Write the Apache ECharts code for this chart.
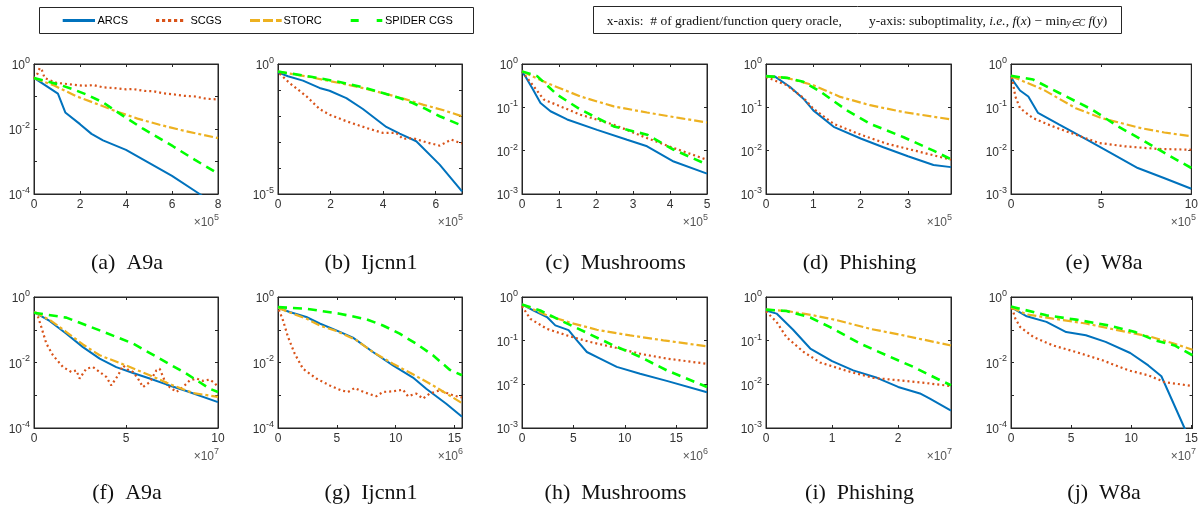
<!DOCTYPE html>
<html><head><meta charset="utf-8">
<script src="https://cdn.jsdelivr.net/npm/echarts@6/dist/echarts.min.js"></script>
<style>html,body{margin:0;padding:0;background:#fff}#c{width:1201px;height:506px}</style>
</head><body><div id="c"></div><script>
// ---------------- data ----------------
const seriesNames = ['ARCS', 'SCGS', 'STORC', 'SPIDER CGS'];
const panelCaptions = ['(a)  A9a', '(b)  Ijcnn1', '(c)  Mushrooms', '(d)  Phishing', '(e)  W8a',
                       '(f)  A9a', '(g)  Ijcnn1', '(h)  Mushrooms', '(i)  Phishing', '(j)  W8a'];
const xMax = [8, 7, 5, 3.91, 10, 10, 15.64, 18, 2.8, 15.1];
const xStep = [2, 2, 1, 1, 5, 5, 5, 5, 1, 5];
const xPow = [5, 5, 5, 5, 5, 7, 6, 6, 7, 7];
const yMinPow = [-4, -5, -3, -3, -3, -4, -4, -3, -3, -4];
const yLabelStep = [2, 5, 1, 1, 1, 2, 2, 1, 1, 2];

// (a) A9a
const a_arcs = [[0,0.372],[1.04,0.123],[1.36,0.0324],[2.0,0.0141],[2.5,0.00708],[3.0,0.00447],[4.0,0.00229],[5.0,0.000912],[6.0,0.000363],[7.2,0.0001],[8.0,0.0000398]];
const a_scgs = [[0,0.355],[0.15,0.501],[0.25,0.759],[0.35,0.631],[0.46,0.372],[0.7,0.316],[0.97,0.263],[1.5,0.24],[2.13,0.214],[2.6,0.224],[3.0,0.191],[3.5,0.182],[4.0,0.166],[4.3,0.17],[4.8,0.148],[5.2,0.145],[5.6,0.126],[6.04,0.117],[6.5,0.105],[7.0,0.1],[7.5,0.0851],[8.0,0.0813]];
const a_storc = [[0,0.372],[0.9,0.214],[1.84,0.102],[2.7,0.0603],[3.58,0.0347],[4.5,0.0209],[5.46,0.0135],[6.5,0.00891],[7.2,0.00692],[8.0,0.00525]];
const a_spider = [[0,0.372],[1.12,0.229],[1.7,0.166],[2.28,0.115],[3.0,0.0661],[3.58,0.0347],[4.74,0.0102],[6.04,0.00295],[7.0,0.00112],[8.0,0.000427]];
// (b) Ijcnn1
const b_arcs = [[0,0.479],[0.38,0.339],[0.95,0.229],[1.58,0.12],[1.96,0.0933],[2.6,0.049],[3.23,0.0186],[4.12,0.0038],[4.63,0.00209],[5.26,0.00107],[6.15,0.000135],[7.0,0.0000126]];
const b_scgs = [[0.06,0.427],[0.44,0.186],[1.08,0.0575],[1.58,0.0186],[1.96,0.0112],[2.6,0.00631],[3.36,0.00347],[3.99,0.00224],[4.5,0.00224],[4.75,0.00132],[5.13,0.00141],[5.64,0.000977],[6.15,0.000724],[6.59,0.00123],[7.0,0.000871]];
const b_storc = [[0,0.513],[1.2,0.316],[2.34,0.186],[3.2,0.12],[3.99,0.0759],[4.8,0.0457],[5.51,0.0275],[6.3,0.0166],[7.0,0.00977]];
const b_spider = [[0,0.513],[1.2,0.331],[2.34,0.204],[3.2,0.129],[3.99,0.0759],[4.6,0.0501],[5.13,0.0316],[5.6,0.0191],[6.15,0.00977],[7.0,0.00427]];
// (c) Mushrooms
const c_arcs = [[0,0.676],[0.1,0.501],[0.27,0.282],[0.5,0.126],[0.77,0.0813],[1.22,0.0525],[2.03,0.0302],[2.84,0.0178],[3.38,0.0126],[4.1,0.00562],[5,0.00295]];
const c_scgs = [[0,0.676],[0.32,0.302],[0.59,0.151],[1.04,0.105],[1.58,0.0676],[2.48,0.0398],[3.38,0.0195],[4.1,0.0115],[5,0.00617]];
const c_storc = [[0,0.676],[0.68,0.363],[1.58,0.178],[2.48,0.105],[3.38,0.0759],[4.28,0.0562],[5,0.0447]];
const c_spider = [[0,0.676],[0.41,0.525],[0.95,0.195],[1.58,0.0891],[2.48,0.0363],[3.38,0.0234],[4.1,0.0105],[5,0.00479]];
// (d) Phishing
const d_arcs = [[0,0.525],[0.19,0.513],[0.51,0.295],[0.79,0.158],[1.0,0.0851],[1.43,0.0355],[2.0,0.0191],[2.48,0.012],[3.0,0.00741],[3.54,0.00468],[3.91,0.00417]];
const d_scgs = [[0,0.501],[0.44,0.324],[0.79,0.166],[1.0,0.0933],[1.43,0.0417],[2.0,0.0234],[2.55,0.0145],[3.26,0.00933],[3.91,0.00617]];
const d_storc = [[0,0.525],[0.44,0.479],[1.0,0.324],[1.57,0.174],[2.2,0.112],[2.91,0.0776],[3.91,0.0525]];
const d_spider = [[0,0.525],[0.44,0.479],[0.79,0.389],[1.14,0.234],[1.71,0.0851],[2.2,0.0417],[2.91,0.0204],[3.54,0.01],[3.91,0.00631]];
// (e) W8a
const e_arcs = [[0,0.525],[0.14,0.398],[0.5,0.245],[0.96,0.178],[1.5,0.0741],[2.68,0.0398],[4.13,0.0186],[5.4,0.00955],[7.03,0.00398],[8.48,0.00234],[10,0.00132]];
const e_scgs = [[0.05,0.501],[0.24,0.178],[0.5,0.0955],[1.23,0.0562],[2.32,0.0363],[3.59,0.0234],[4.86,0.0151],[6.3,0.0126],[8.1,0.011],[10,0.0105]];
const e_storc = [[0,0.525],[1.78,0.257],[3.59,0.0955],[5.04,0.0562],[7.21,0.0331],[8.5,0.0263],[10,0.0214]];
const e_spider = [[0,0.537],[1.23,0.437],[2.68,0.214],[4.49,0.0891],[5.94,0.0363],[7.39,0.0166],[8.84,0.00741],[10,0.00398]];
// (f) A9a
const f_arcs = [[0,0.347],[0.85,0.186],[1.76,0.0759],[2.66,0.0295],[3.57,0.0132],[4.47,0.00724],[5.38,0.00479],[6.29,0.00324],[7.19,0.00214],[8.28,0.00135],[10,0.000617]];
const f_scgs = [[0.07,0.347],[0.22,0.245],[0.4,0.12],[0.67,0.038],[1.03,0.0166],[1.58,0.00724],[2.03,0.00513],[2.3,0.00575],[2.48,0.00324],[2.84,0.00646],[3.21,0.00724],[3.57,0.00513],[3.93,0.00363],[4.2,0.002],[4.57,0.00407],[4.84,0.00813],[5.11,0.00603],[5.38,0.00513],[5.65,0.00324],[5.92,0.00178],[6.29,0.00251],[6.65,0.00575],[6.83,0.00646],[7.1,0.00282],[7.37,0.00178],[7.74,0.00126],[8.1,0.00178],[8.46,0.00282],[8.82,0.00324],[9.18,0.00275],[9.55,0.00302],[9.82,0.00234],[10,0.00178]];
const f_storc = [[0,0.347],[0.85,0.2],[1.76,0.0851],[2.66,0.0355],[3.57,0.0166],[5.0,0.00813],[6.29,0.00407],[7.55,0.002],[8.64,0.00117],[10,0.000891]];
const f_spider = [[0,0.331],[1.76,0.234],[3.57,0.0955],[5.38,0.038],[6.83,0.0132],[8.28,0.00457],[9.55,0.00158],[10,0.00126]];
// (g) Ijcnn1
const g_arcs = [[0,0.468],[0.99,0.347],[2.41,0.245],[3.54,0.155],[4.96,0.0955],[6.37,0.0575],[8.07,0.0209],[9.77,0.00813],[11.47,0.00347],[12.6,0.00158],[14.3,0.00055],[15.64,0.000219]];
const g_scgs = [[0.08,0.407],[0.42,0.195],[0.85,0.0603],[1.42,0.0186],[2.12,0.00646],[3.26,0.00324],[4.39,0.002],[5.38,0.00141],[5.95,0.00126],[6.52,0.00166],[6.94,0.00141],[7.65,0.00112],[8.36,0.000933],[8.92,0.00126],[9.77,0.00132],[10.62,0.00148],[11.05,0.000933],[11.76,0.00112],[12.32,0.000794],[12.89,0.00112],[13.74,0.00141],[14.87,0.001],[15.64,0.000851]];
const g_storc = [[0,0.468],[1.27,0.309],[2.41,0.219],[3.54,0.135],[4.96,0.0912],[6.66,0.0479],[8.07,0.0209],[9.77,0.00912],[11.47,0.00437],[13.17,0.002],[15.64,0.000575]];
const g_spider = [[0,0.49],[2.41,0.437],[5.24,0.309],[7.51,0.209],[8.92,0.135],[10.34,0.0759],[11.76,0.0372],[13.17,0.0166],[14.59,0.00603],[15.64,0.00407]];
// (h) Mushrooms
const h_arcs = [[0,0.676],[1.13,0.49],[2.43,0.347],[3.24,0.224],[4.53,0.174],[5.34,0.102],[6.31,0.055],[7.6,0.0389],[9.22,0.0251],[11.49,0.0174],[14.08,0.012],[18,0.00661]];
const h_scgs = [[0,0.617],[0.81,0.316],[2.43,0.186],[4.37,0.132],[6.63,0.0933],[8.9,0.0708],[11.49,0.0501],[14.08,0.0389],[18,0.0295]];
const h_storc = [[0,0.676],[2.43,0.38],[5.02,0.245],[7.28,0.178],[10.52,0.132],[13.75,0.102],[18,0.0741]];
const h_spider = [[0,0.676],[1.78,0.49],[4.05,0.269],[6.31,0.151],[8.9,0.0776],[11.49,0.0427],[14.08,0.0209],[18,0.00871]];
// (i) Phishing
const i_arcs = [[0,0.49],[0.16,0.417],[0.41,0.178],[0.67,0.0661],[1.0,0.0339],[1.32,0.0209],[1.68,0.0141],[2.0,0.00871],[2.33,0.00617],[2.48,0.00468],[2.8,0.00251]];
const i_scgs = [[0,0.468],[0.16,0.269],[0.31,0.12],[0.57,0.055],[0.82,0.0316],[1.22,0.0204],[1.62,0.0141],[2.02,0.0123],[2.42,0.0107],[2.8,0.00912]];
const i_storc = [[0,0.513],[0.31,0.479],[0.72,0.38],[1.07,0.295],[1.58,0.186],[2.08,0.132],[2.8,0.0776]];
const i_spider = [[0,0.513],[0.31,0.479],[0.67,0.339],[0.97,0.204],[1.43,0.0851],[1.83,0.0457],[2.23,0.0251],[2.64,0.0123],[2.8,0.00955]];
// (j) W8a
const j_arcs = [[0,0.49],[1.31,0.257],[2.95,0.174],[4.59,0.0851],[6.23,0.0676],[7.87,0.0427],[9.92,0.0195],[11.42,0.00813],[12.51,0.0038],[14.43,0.0001],[15.1,0.0000282]];
const j_scgs = [[0.08,0.468],[0.36,0.219],[0.77,0.12],[1.86,0.0603],[3.5,0.0331],[5.41,0.0209],[7.6,0.0117],[9.78,0.00575],[11.42,0.00407],[12.79,0.00251],[15.1,0.00191]];
const j_storc = [[0,0.49],[1.31,0.295],[3.5,0.219],[6.23,0.155],[8.96,0.0955],[11.69,0.0603],[13.61,0.0372],[15.1,0.0245]];
const j_spider = [[0,0.513],[2.95,0.275],[5.41,0.204],[8.14,0.135],[10.33,0.0851],[11.97,0.0479],[13.61,0.0331],[15.1,0.0166]];

const panels = [
  [a_arcs, a_scgs, a_storc, a_spider], [b_arcs, b_scgs, b_storc, b_spider],
  [c_arcs, c_scgs, c_storc, c_spider], [d_arcs, d_scgs, d_storc, d_spider],
  [e_arcs, e_scgs, e_storc, e_spider], [f_arcs, f_scgs, f_storc, f_spider],
  [g_arcs, g_scgs, g_storc, g_spider], [h_arcs, h_scgs, h_storc, h_spider],
  [i_arcs, i_scgs, i_storc, i_spider], [j_arcs, j_scgs, j_storc, j_spider]
];

// ---------------- layout & style ----------------
const colLeft = [34, 278, 522, 766, 1011];
const colWidth = [184, 184, 185, 185, 184];
const rowTop = [64, 297];
const rowHeight = [130, 131];
const colors = ['#0072BD', '#D95319', '#EDB120', '#00FF00'];
const lineStyles = [
  { width: 2, type: 'solid' },
  { width: 2.2, type: [2, 3], cap: 'butt' },
  { width: 2.2, type: [9, 3, 3, 3], cap: 'butt' },
  { width: 2.6, type: [9, 6], cap: 'butt' }
];
const AX = '#262626';
const SANS = 'Liberation Sans, Arial, Helvetica, sans-serif';
const SERIF = 'Liberation Serif, Times New Roman, serif';

const grids = [], xAxes = [], yAxes = [], series = [], graphics = [];

panels.forEach((lines, p) => {
  const r = Math.floor(p / 5), c = p % 5;
  const L = colLeft[c], T = rowTop[r], W = colWidth[c], H = rowHeight[r];
  grids.push({ left: L, top: T, width: W, height: H, containLabel: false,
               show: true, borderColor: AX, borderWidth: 1, backgroundColor: '#fff' });
  const xBase = {
    type: 'value', gridIndex: p, min: 0, max: xMax[p], interval: xStep[p],
    axisLine: { show: true, onZero: false, lineStyle: { color: AX, width: 1 } },
    axisTick: { show: true, inside: true, length: 3, lineStyle: { color: AX } },
    splitLine: { show: false }
  };
  xAxes.push(Object.assign({}, xBase, {
    position: 'bottom',
    axisLabel: { show: true, color: '#333', fontSize: 12, fontFamily: SANS, margin: 5,
      formatter: v => Math.abs(v / xStep[p] - Math.round(v / xStep[p])) < 1e-6 ? String(Math.round(v)) : '' }
  }));
  xAxes.push(Object.assign({}, xBase, { position: 'top', axisLabel: { show: false } }));
  const yBase = {
    type: 'log', logBase: 10, gridIndex: p, min: Math.pow(10, yMinPow[p]), max: 1, interval: 1,
    axisLine: { show: true, onZero: false, lineStyle: { color: AX, width: 1 } },
    axisTick: { show: true, inside: true, length: 3, lineStyle: { color: AX } },
    splitLine: { show: false }
  };
  yAxes.push(Object.assign({}, yBase, {
    position: 'left',
    axisLabel: { show: true, margin: 4,
      formatter: v => { const e = Math.round(Math.log10(v)); return (e % yLabelStep[p] === 0) ? '{b|10}{s|' + e + '}' : ''; },
      rich: {
        b: { fontSize: 12, fontFamily: SANS, color: '#333', padding: [4, 0, 0, 0], verticalAlign: 'bottom' },
        s: { fontSize: 9, fontFamily: SANS, color: '#333', verticalAlign: 'top' }
      } }
  }));
  yAxes.push(Object.assign({}, yBase, { position: 'right', axisLabel: { show: false } }));

  lines.forEach((d, k) => {
    series.push({
      name: seriesNames[k], type: 'line', xAxisIndex: 2 * p, yAxisIndex: 2 * p,
      data: d, showSymbol: false, symbol: 'none', smooth: false, clip: true,
      lineStyle: Object.assign({ color: colors[k] }, lineStyles[k]), z: 2 + k
    });
  });

  // x10^n multiplier
  graphics.push({ type: 'text', x: L + W + 1, y: T + H + 27, z: 10,
    style: { text: '{a|×10}{s|' + xPow[p] + '}', align: 'right', verticalAlign: 'middle',
      rich: { a: { fontSize: 12, fontFamily: SANS, fill: '#555', padding: [4, 0, 0, 0], verticalAlign: 'bottom' },
              s: { fontSize: 9, fontFamily: SANS, fill: '#555', verticalAlign: 'top' } } } });
  // caption
  graphics.push({ type: 'text', x: L + W / 2 + 1, y: r === 0 ? 263 : 493, z: 10,
    style: { text: panelCaptions[p], align: 'center', verticalAlign: 'middle',
      font: '22px ' + SERIF, fill: '#111' } });
});

// legend box
graphics.push({ type: 'rect', shape: { x: 39.5, y: 7.5, width: 434, height: 26 },
  style: { fill: '#fff', stroke: AX, lineWidth: 1 }, z: 10 });
const legX = [[62.7, 95, 97.5], [156, 185, 190.5], [250, 281.7, 283.5], [350.7, 382.3, 385]];
const legDash = [null, [3.2, 2.8], [10, 3], [8, 18]];
seriesNames.forEach((nm, k) => {
  graphics.push({ type: 'line', shape: { x1: legX[k][0], y1: 20.5, x2: legX[k][1], y2: 20.5 }, z: 11,
    style: { stroke: colors[k], lineWidth: 3, lineDash: legDash[k], lineCap: 'butt' } });
  graphics.push({ type: 'text', x: legX[k][2], y: 20.5, z: 11,
    style: { text: nm, font: '11px ' + SANS, fill: '#000', align: 'left', verticalAlign: 'middle' } });
});

// axis description box
graphics.push({ type: 'rect', shape: { x: 593.5, y: 6.5, width: 528, height: 27 },
  style: { fill: '#fff', stroke: AX, lineWidth: 1 }, z: 10 });
graphics.push({ type: 'text', x: 857, y: 20, z: 11,
  style: {
    text: '{n|x-axis:  # of gradient/function query oracle,        y-axis: suboptimality, }{i|i.e.,}{n| }{i|f}{n|(}{i|x}{n|) − min}{sub|y∈}{subi|C}{n| }{i|f}{n|(}{i|y}{n|)}',
    align: 'center', verticalAlign: 'middle',
    rich: {
      n: { fontSize: 13.5, fontFamily: SERIF, fill: '#111', padding: [3, 0, 0, 0], verticalAlign: 'bottom' },
      i: { fontSize: 13.5, fontFamily: SERIF, fontStyle: 'italic', fill: '#111', padding: [3, 0, 0, 0], verticalAlign: 'bottom' },
      sub: { fontSize: 9.5, fontFamily: SERIF, fontStyle: 'italic', fill: '#111', padding: [7, 0, 0, 0], verticalAlign: 'bottom' },
      subi: { fontSize: 9.5, fontFamily: SERIF, fontStyle: 'italic', fill: '#111', padding: [7, 0, 0, 0], verticalAlign: 'bottom' }
    }
  } });

const chart = echarts.init(document.getElementById('c'), null, { renderer: 'canvas' });
chart.setOption({
  animation: false,
  backgroundColor: '#fff',
  grid: grids, xAxis: xAxes, yAxis: yAxes, series: series,
  graphic: graphics
});
</script></body></html>
